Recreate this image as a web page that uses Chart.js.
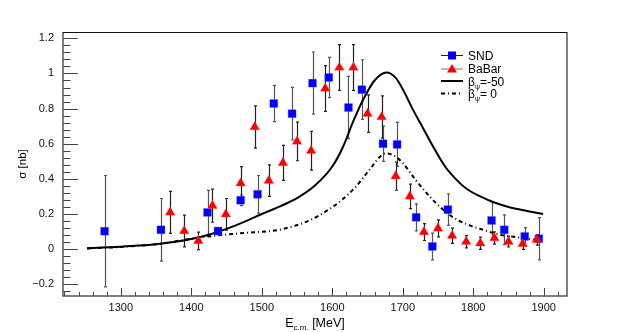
<!DOCTYPE html>
<html>
<head>
<meta charset="utf-8">
<script src="https://cdn.jsdelivr.net/npm/chart.js@4.4.0/dist/chart.umd.min.js"></script>
<style>
  html, body { margin: 0; padding: 0; background: #fff; }
</style>
</head>
<body>
<canvas id="c" width="630" height="332"></canvas>
<script>
// ---- SND ----
const sndE     = [1277, 1357, 1423, 1438, 1470, 1494, 1517, 1543, 1572, 1595, 1623, 1642, 1672, 1692, 1719, 1742, 1764, 1826, 1844, 1873, 1893];
const sndSigma = [0.102, 0.11, 0.209, 0.103, 0.278, 0.312, 0.829, 0.771, 0.945, 0.977, 0.806, 0.908, 0.60, 0.596, 0.181, 0.015, 0.225, 0.163, 0.11, 0.072, 0.059];
const sndErr   = [0.317, 0.178, 0.125, 0.02, 0.03, 0.107, 0.103, 0.15, 0.177, 0.115, 0.177, 0.17, 0.10, 0.125, 0.077, 0.076, 0.09, 0.107, 0.085, 0.05, 0.12];

// ---- BaBar ----
const babarE     = [1370, 1390, 1410, 1430, 1449, 1470, 1490, 1510, 1530, 1550, 1570, 1590, 1610, 1630, 1650, 1670, 1690, 1710, 1730, 1750, 1770, 1790, 1810, 1830, 1850, 1870, 1890];
const babarSigma = [0.209, 0.103, 0.047, 0.247, 0.198, 0.375, 0.695, 0.39, 0.491, 0.613, 0.56, 0.914, 1.034, 1.034, 0.771, 0.752, 0.415, 0.30, 0.097, 0.118, 0.076, 0.042, 0.033, 0.063, 0.042, 0.029, 0.053];
const babarErr   = [0.12, 0.09, 0.05, 0.094, 0.09, 0.095, 0.12, 0.09, 0.10, 0.11, 0.11, 0.13, 0.13, 0.13, 0.107, 0.12, 0.08, 0.07, 0.048, 0.048, 0.043, 0.035, 0.035, 0.035, 0.03, 0.03, 0.03];

// ---- curvas del ajuste ----
const betaM50E = [1252, 1275, 1300, 1325, 1350, 1375, 1400, 1425, 1450, 1475, 1500, 1525, 1550, 1575, 1600, 1615, 1630, 1645, 1660, 1677, 1690, 1700, 1715, 1730, 1745, 1760, 1775, 1790, 1810, 1830, 1850, 1875, 1899];
const betaM50  = [0.005, 0.009, 0.014, 0.02, 0.028, 0.04, 0.058, 0.082, 0.115, 0.155, 0.20, 0.242, 0.29, 0.36, 0.47, 0.58, 0.73, 0.86, 0.96, 1.005, 0.975, 0.91, 0.79, 0.68, 0.57, 0.47, 0.40, 0.345, 0.30, 0.265, 0.24, 0.218, 0.20];
const beta0E   = [1252, 1300, 1355, 1398, 1431, 1469, 1525, 1540, 1563, 1587, 1611, 1634, 1653, 1670, 1677, 1690, 1700, 1719, 1738, 1757, 1776, 1795, 1814, 1838, 1861, 1895];
const beta0    = [0.004, 0.012, 0.03, 0.058, 0.075, 0.09, 0.11, 0.125, 0.155, 0.205, 0.272, 0.358, 0.453, 0.535, 0.545, 0.525, 0.49, 0.39, 0.30, 0.225, 0.17, 0.135, 0.11, 0.082, 0.068, 0.05];

// ---- ejes ----
const xMin = 1218, xMax = 1933;
const yMin = -0.267, yMax = 1.236;

const FONT = "'Liberation Sans', Arial, sans-serif";
const pts = (xs, ys) => xs.map((x, i) => ({ x, y: ys[i] }));

// barras de error (debajo de los marcadores)
const errorBars = {
  id: 'errorBars',
  beforeDatasetsDraw(chart) {
    const { ctx, chartArea: a, scales: { x, y } } = chart;
    ctx.save();
    ctx.beginPath();
    ctx.rect(a.left, a.top, a.right - a.left, a.bottom - a.top);
    ctx.clip();
    chart.data.datasets.forEach(ds => {
      if (!ds.errors) return;
      ctx.strokeStyle = ds.errColor;
      ctx.lineWidth = 1.2;
      ds.data.forEach((p, i) => {
        const px = Math.round(x.getPixelForValue(p.x)) + 0.5;
        const y1 = y.getPixelForValue(p.y + ds.errors[i]);
        const y2 = y.getPixelForValue(p.y - ds.errors[i]);
        ctx.beginPath();
        ctx.moveTo(px, y1); ctx.lineTo(px, y2);
        ctx.moveTo(px - 1.5, y1); ctx.lineTo(px + 1.5, y1);
        ctx.moveTo(px - 1.5, y2); ctx.lineTo(px + 1.5, y2);
        ctx.stroke();
      });
    });
    ctx.restore();
  }
};

// marco, ticks estilo ROOT, títulos y leyenda
const rootFrame = {
  id: 'rootFrame',
  afterDraw(chart) {
    const { ctx, chartArea: a, scales: { x, y } } = chart;
    ctx.save();
    // ticks
    ctx.strokeStyle = '#444';
    ctx.lineWidth = 1;
    ctx.beginPath();
    for (let k = -10; k <= 40; k++) {
      const v = k * 0.04;
      if (v < yMin || v > yMax) continue;
      const py = Math.round(y.getPixelForValue(v)) + 0.5;
      const len = (k % 5 === 0) ? 15 : 7.5;
      ctx.moveTo(a.left, py); ctx.lineTo(a.left + len, py);
    }
    for (let v = 1220; v <= xMax; v += 20) {
      const px = Math.round(x.getPixelForValue(v)) + 0.5;
      const len = (v % 100 === 0) ? 8 : 4;
      ctx.moveTo(px, a.bottom); ctx.lineTo(px, a.bottom - len);
    }
    ctx.stroke();
    // frame
    ctx.strokeStyle = '#555';
    ctx.lineWidth = 1.5;
    ctx.beginPath();
    ctx.moveTo(a.left, a.top); ctx.lineTo(a.left, a.bottom); ctx.lineTo(a.right, a.bottom); ctx.lineTo(a.right, a.top);
    ctx.stroke();
    ctx.strokeStyle = '#111';
    ctx.lineWidth = 1;
    ctx.beginPath();
    ctx.moveTo(a.left, a.top + 0.5); ctx.lineTo(a.right, a.top + 0.5);
    ctx.stroke();

    // títulos de ejes
    ctx.fillStyle = '#000';
    ctx.textBaseline = 'alphabetic';
    ctx.font = '12.5px ' + FONT;
    const wE = ctx.measureText('E').width;
    const wM = ctx.measureText(' [MeV]').width;
    ctx.font = '8px ' + FONT;
    const wS = ctx.measureText('c.m.').width;
    let tx = (a.left + a.right) / 2 - (wE + wS + wM) / 2;
    const ty = 327;
    ctx.font = '12.5px ' + FONT;
    ctx.fillText('E', tx, ty);
    ctx.font = '8px ' + FONT;
    ctx.fillText('c.m.', tx + wE, ty + 2.5);
    ctx.font = '12.5px ' + FONT;
    ctx.fillText(' [MeV]', tx + wE + wS, ty);

    ctx.save();
    ctx.translate(26, (a.top + a.bottom) / 2);
    ctx.rotate(-Math.PI / 2);
    ctx.textAlign = 'center';
    ctx.font = '11.5px ' + FONT;
    ctx.fillText('σ [nb]', 0, 0);
    ctx.restore();

    // leyenda
    const lx0 = 441, lx1 = 463, mx = 452, tx0 = 468;
    const rows = [55, 68.5, 81, 93.5];
    ctx.lineWidth = 1;
    ctx.strokeStyle = '#222';
    ctx.beginPath(); ctx.moveTo(lx0, rows[0] + 0.5); ctx.lineTo(lx1, rows[0] + 0.5); ctx.stroke();
    ctx.fillStyle = '#0000ff';
    ctx.fillRect(mx - 4, rows[0] - 3.5, 8, 8);
    ctx.strokeStyle = '#777';
    ctx.beginPath(); ctx.moveTo(lx0, rows[1] + 0.5); ctx.lineTo(lx1, rows[1] + 0.5); ctx.stroke();
    ctx.fillStyle = '#ff0000';
    ctx.beginPath(); ctx.moveTo(mx, rows[1] - 4.5); ctx.lineTo(mx + 5, rows[1] + 4); ctx.lineTo(mx - 5, rows[1] + 4); ctx.closePath(); ctx.fill();
    ctx.strokeStyle = '#000';
    ctx.lineWidth = 2;
    ctx.beginPath(); ctx.moveTo(lx0, rows[2]); ctx.lineTo(lx1, rows[2]); ctx.stroke();
    ctx.setLineDash([4, 3, 1, 3]);
    ctx.beginPath(); ctx.moveTo(lx0, rows[3]); ctx.lineTo(lx1, rows[3]); ctx.stroke();
    ctx.setLineDash([]);

    ctx.fillStyle = '#000';
    ctx.font = '12px ' + FONT;
    ctx.fillText('SND', tx0, rows[0] + 4.5);
    ctx.fillText('BaBar', tx0, rows[1] + 4.5);
    const greek = (row, rest) => {
      ctx.font = '12px ' + FONT;
      ctx.fillText('β', tx0, row + 4.5);
      const wb = ctx.measureText('β').width;
      ctx.font = '7px ' + FONT;
      ctx.fillText('ψ', tx0 + wb, row + 7.5);
      const wp = ctx.measureText('ψ').width;
      ctx.font = '12px ' + FONT;
      ctx.fillText(rest, tx0 + wb + wp, row + 4.5);
    };
    greek(rows[2], '=-50');
    greek(rows[3], '= 0');
    ctx.restore();
  }
};

new Chart(document.getElementById('c'), {
  type: 'scatter',
  data: {
    datasets: [
      {
        label: 'SND',
        data: pts(sndE, sndSigma),
        errors: sndErr,
        errColor: '#555',
        pointStyle: 'rect',
        pointRadius: 5.6,
        pointHoverRadius: 5.6,
        backgroundColor: '#0000ff',
        borderColor: 'rgba(80,80,255,0.6)',
        borderWidth: 0.5,
        order: 1,
      },
      {
        label: 'BaBar',
        data: pts(babarE, babarSigma),
        errors: babarErr,
        errColor: '#222',
        pointStyle: 'triangle',
        pointRadius: 5.6,
        pointHoverRadius: 5.6,
        backgroundColor: '#ff0000',
        borderColor: 'rgba(255,80,80,0.6)',
        borderWidth: 0.5,
        order: 0,
      },
      {
        label: 'beta=-50',
        data: pts(betaM50E, betaM50),
        showLine: true,
        borderColor: '#000',
        borderWidth: 2,
        pointRadius: 0,
        cubicInterpolationMode: 'monotone',
        order: 3,
      },
      {
        label: 'beta=0',
        data: pts(beta0E, beta0),
        showLine: true,
        borderColor: '#000',
        borderWidth: 2,
        borderDash: [4, 3, 1, 3],
        pointRadius: 0,
        cubicInterpolationMode: 'monotone',
        order: 2,
      },
    ],
  },
  options: {
    responsive: false,
    animation: false,
    layout: { padding: { left: 0, top: 32, right: 63, bottom: 0 } },
    plugins: {
      legend: { display: false },
      tooltip: { enabled: false },
    },
    scales: {
      x: {
        type: 'linear',
        min: xMin,
        max: xMax,
        grid: { display: false, drawTicks: false },
        border: { display: false },
        ticks: {
          stepSize: 100,
          includeBounds: false,
          padding: 5,
          color: '#111',
          font: { family: FONT, size: 11 },
          maxRotation: 0,
          callback: v => (v % 100 === 0 ? String(v) : ''),
        },
        afterFit: s => { s.height = 36; },
      },
      y: {
        type: 'linear',
        min: yMin,
        max: yMax,
        grid: { display: false, drawTicks: false },
        border: { display: false },
        ticks: {
          stepSize: 0.2,
          includeBounds: false,
          padding: 9,
          color: '#111',
          font: { family: FONT, size: 11 },
          callback: v => {
            const r = Math.round(v * 10) / 10;
            if (Math.abs(v - r) > 1e-6) return '';
            return r < 0 ? '−' + Math.abs(r) : String(r);
          },
        },
        afterFit: s => { s.width = 63; },
      },
    },
  },
  plugins: [errorBars, rootFrame],
});
</script>
</body>
</html>
